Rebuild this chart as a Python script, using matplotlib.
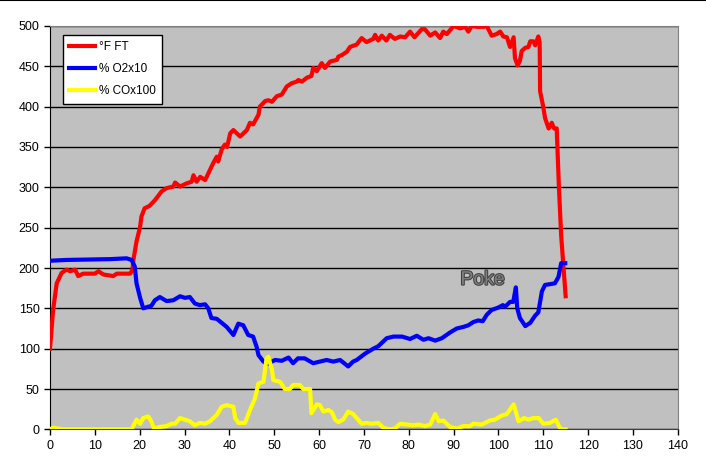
import matplotlib
matplotlib.use("Agg")
import matplotlib.pyplot as plt
import matplotlib.patheffects as pe
from matplotlib.lines import Line2D

plt.rcParams['font.family'] = ['Liberation Sans', 'DejaVu Sans']

# °F FT
ft_x = [0, 0.7, 1.5, 2.6, 3.7, 4.5, 5.6, 6.3, 7.4, 10, 10.8, 11.9, 14.1, 14.9, 16.4, 17.9,
        18.4, 18.6, 19.3, 20.1, 20.4, 21.1, 22.2, 23.4, 24.9, 26.0, 27.5, 27.9, 29, 30.5,
        31.6, 32, 32.7, 33.5, 34.6, 35.7, 36.4, 37.2, 37.5, 38.3, 39, 39.5, 40.2, 40.9,
        42.4, 43.9, 44.6, 45.3, 46.5, 46.8, 48.0, 48.7, 49.5, 50.6, 51.7, 52.8, 53.9, 55,
        55.4, 56.2, 57.3, 58.3, 58.7, 59.5, 60.6, 61.3, 62.5, 64, 64.3, 65.1, 66.2, 66.9,
        68.4, 69.5, 70.6, 72.1, 72.5, 73.2, 74, 75, 75.8, 76.9, 78.1, 79.2, 80.3, 81.3,
        82.9, 83.6, 84.8, 85.9, 87, 87.7, 88.5, 90, 91.5, 92.6, 93.3, 94, 95.2, 96.7, 97.4,
        98.5, 99.6, 100.4, 101.1, 101.9, 102.6, 103.4, 103.7, 104.3, 104.8, 105.2, 106,
        106.7, 107.1, 107.8, 108.2, 108.9, 109.2, 109.3, 110, 110.4, 111.2, 111.9, 112.4,
        113, 113.5, 114, 115]
ft_y = [100, 148, 181, 194, 198, 196, 198, 190, 193, 193, 196, 192, 190, 193, 193, 193,
        198, 210, 233, 251, 264, 274, 277, 284, 295, 299, 301, 306, 301, 305,
        307, 315, 307, 313, 309, 322, 330, 338, 332, 347, 353, 350, 367, 371,
        363, 371, 380, 378, 390, 400, 407, 408, 406, 413, 415, 425, 429, 431,
        433, 431, 436, 438, 448, 444, 454, 448, 456, 458, 462, 464, 468, 474,
        477, 485, 480, 484, 489, 482, 488, 482, 489, 484, 487, 486, 493, 486,
        496, 496, 488, 492, 485, 493, 490, 500, 497, 499, 493, 500, 499, 499, 500,
        488, 490, 493, 487, 486, 474, 486, 460, 451, 457, 469, 473,
        474, 481, 481, 476, 487, 480, 419, 400, 386, 373, 380, 373,
        373, 300, 240, 165]

# % O2x10
o2_x = [0, 3.7, 13.4, 17.1, 18.2, 18.9, 19.3, 20.1, 20.8, 21.9, 22.6, 23.4, 24.5, 26,
        27.5, 29, 30.1, 31.2, 32.3, 33.4, 34.6, 35.3, 36, 37.2, 38.3, 39.4, 40.9, 42,
        43.1, 44.2, 45.3, 46.1, 46.5, 47.6, 48.5, 50.2, 51.7, 53.2, 54.2, 55.3, 56.8,
        58.7, 60.2, 61.7, 63.2, 64.7, 66.5, 67.6, 68.4, 70.3, 72.1, 73.2, 75.1, 76.6,
        78.5, 80.3, 81.8, 83.3, 84.4, 85.9, 87.4, 89.2, 90.7, 92.2, 93.3, 94.4, 95.5,
        96.5, 97.4, 98.5, 100, 101, 101.5, 102.6, 103.3, 103.9, 104.2, 104.8, 106,
        107.1, 108.2, 108.9, 109.7, 110.4, 111.5, 112.6, 113.4, 114, 114.9]
o2_y = [209, 210, 211, 212, 210, 202, 181, 163, 150, 152, 153, 160, 164, 159,
        160, 165, 163, 164, 156, 154, 155, 150, 138, 137, 132, 127, 117, 131,
        129, 117, 115, 102, 92, 84, 81, 86, 85, 89, 82, 88, 88,
        82, 84, 86, 84, 86, 78, 84, 86, 94, 100, 103, 113, 115,
        115, 112, 116, 111, 113, 110, 113, 120, 125, 127, 129, 133, 135,
        134, 142, 148, 151, 154, 152, 158, 158, 176, 150, 138, 128,
        132, 141, 145, 171, 179, 180, 181, 189, 206, 206]

# % COx100
co_x = [0, 0.7, 3, 18.2, 19.3, 20.1, 20.8, 21.9, 22.6, 23.2, 24.5, 26, 27.1, 27.9, 29,
        30.1, 31.2, 32.3, 33.4, 34.6, 35.7, 37.2, 38.3, 39.4, 40.9, 41.3, 42, 43.5,
        44.6, 45.7, 46.5, 47.6, 48.3, 48.7, 49.5, 49.8, 51.3, 52.4, 53.5, 54.2, 55.7,
        56.5, 58, 58.3, 59.5, 60.2, 61, 62.1, 62.9, 63.6, 64.3, 65.4, 66.5, 67.6, 68.4,
        69.5, 70.6, 71.7, 73.2, 74.3, 75.8, 76.9, 78.1, 79.6, 81.1, 82.2, 83.6, 84.8,
        85.9, 86.7, 87.7, 89.2, 90.7, 92.2, 93.7, 94.4, 96.3, 97.4, 98.1, 99.2, 100.7,
        101.9, 103.4, 104.5, 105.7, 106.7, 107.8, 109, 110, 111.5, 112.8, 113.6,
        114.1, 115]
co_y = [0, 2, 0, 0, 12, 7, 14, 16, 10, 1, 3, 4, 7, 7, 14,
        12, 10, 5, 8, 7, 10, 18, 28, 30, 28, 14, 8, 8,
        24, 38, 57, 59, 88, 90, 74, 61, 59, 50, 50, 55, 55,
        50, 50, 20, 31, 30, 22, 24, 21, 12, 9, 12, 22, 19, 14,
        7, 8, 7, 8, 2, 0, 1, 7, 6, 5, 6, 4, 6,
        19, 10, 11, 3, 1, 4, 4, 7, 6, 9, 11, 12, 17,
        19, 31, 10, 14, 12, 14, 14, 7, 8, 12, 3,
        0, 0]

fig = plt.figure(figsize=(7.06, 4.76), dpi=100)
ax = fig.add_axes([0.0708, 0.098, 0.8892, 0.8474])
ax.set_facecolor('#C0C0C0')

ax.plot(ft_x, ft_y, color='#FF0000', lw=3, label='°F FT', zorder=3)
ax.plot(o2_x, o2_y, color='#0000FF', lw=3, label='% O2x10', zorder=3)
ax.plot(co_x, co_y, color='#FFFF00', lw=3, label='% COx100', zorder=3)

ax.set_xlim(0, 140)
ax.set_ylim(0, 500)
ax.set_xticks(range(0, 141, 10))
ax.set_yticks(range(0, 501, 50))
ax.tick_params(direction='out', length=4, width=1, labelsize=9, colors='black')
ax.yaxis.grid(True, color='black', lw=1)
ax.set_axisbelow(True)

for s in ['top', 'right']:
    ax.spines[s].set_color('#808080')
ax.spines['bottom'].set_color('#404040')
ax.spines['left'].set_color('black')

ax.text(96.5, 185, 'Poke', fontsize=14, color='#7F7F7F', ha='center', va='center',
        path_effects=[pe.withStroke(linewidth=1.5, foreground='#404040')])

leg = ax.legend(loc='upper left', bbox_to_anchor=(0.0207, 0.978), borderaxespad=0,
                fontsize=8.5, fancybox=False, framealpha=1, edgecolor='black',
                handlelength=2.2, handletextpad=0.3, labelspacing=0.85, borderpad=0.55)
leg.get_frame().set_linewidth(1)

fig.add_artist(Line2D([0, 1], [0.999, 0.999], color='black', lw=1.5,
                      transform=fig.transFigure))

fig.savefig('out.png', dpi=100)
